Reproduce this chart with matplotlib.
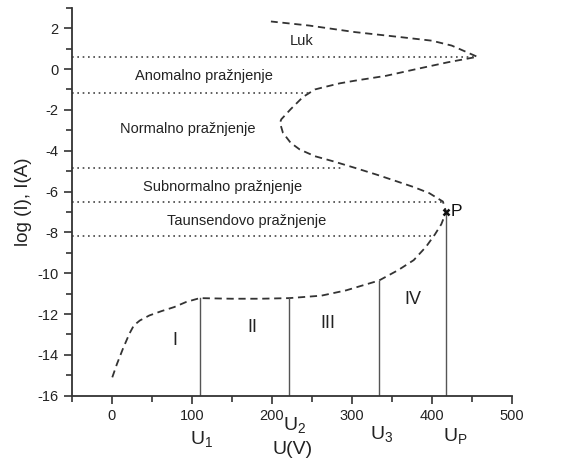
import matplotlib
matplotlib.use('Agg')
import matplotlib.pyplot as plt
from matplotlib.ticker import MultipleLocator
import matplotlib.transforms as mtransforms

plt.rcParams['font.family'] = ['Liberation Sans', 'DejaVu Sans']
plt.rcParams['mathtext.fontset'] = 'custom'
plt.rcParams['mathtext.rm'] = 'Liberation Sans'
plt.rcParams['mathtext.it'] = 'Liberation Sans'
plt.rcParams['axes.unicode_minus'] = False

# dashed characteristic curve (U in V, log I)
lower_u = [0.7, 6.5, 14, 22, 27.6, 35, 47, 62, 78, 93, 110, 150, 186, 222,
           262, 293, 334, 358, 377.5, 393, 404, 412, 418]
lower_logi = [-15.1, -14.45, -13.7, -12.97, -12.56, -12.32, -12.07, -11.86,
              -11.66, -11.41, -11.22, -11.25, -11.25, -11.22, -11.1, -10.84,
              -10.36, -9.85, -9.36, -8.7, -8.1, -7.6, -7.0]
upper_u = [414, 397, 377.5, 354, 331, 304, 277, 254, 235, 223.6, 214, 210.3,
           212, 223.6, 239, 254, 266, 285, 304, 343, 381, 420, 457,
           425, 400, 362, 304, 247, 199]
upper_logi = [-6.49, -6.08, -5.78, -5.47, -5.17, -4.84, -4.52, -4.27, -3.94,
              -3.61, -3.12, -2.63, -2.46, -1.97, -1.37, -1.0, -0.88, -0.7,
              -0.57, -0.33, 0.0, 0.33, 0.6, 1.15, 1.39, 1.56, 1.81, 2.13, 2.33]

# region boundaries (dotted): level and where they stop
bound_levels = [0.57, -1.18, -4.84, -6.5, -8.2]
bound_ends = [457, 250, 289, 414, 400]

# vertical lines at U1, U2, U3, Up
vline_u = [110, 221, 334, 418]
vline_top = [-11.22, -11.2, -10.36, -7.0]
vline_names = ['U$_1$', 'U$_2$', 'U$_3$', 'U$_\\mathregular{P}$']
vname_x = [112, 228, 338, 430]
vname_y = [-0.112, -0.076, -0.099, -0.104]

regions = ['Luk', 'Anomalno pražnjenje', 'Normalno pražnjenje',
           'Subnormalno pražnjenje', 'Taunsendovo pražnjenje']
region_x = [237, 115, 95, 138, 169]
region_y = [1.39, -0.33, -2.93, -5.8, -7.45]

roman = ['I', 'II', 'III', 'IV']
roman_x = [79.5, 176, 270, 376]
roman_y = [-13.3, -12.68, -12.44, -11.3]

p_u, p_logi = 418, -6.98

fig = plt.figure(figsize=(5.63, 4.59), dpi=100)
ax = fig.add_axes([0.1274, 0.1379, 0.7815, 0.8451])

line_col = '#333333'
ax.plot(lower_u + upper_u, lower_logi + upper_logi, color=line_col, lw=1.3,
        linestyle=(0, (4, 2.6)))

for lev, end in zip(bound_levels, bound_ends):
    ax.plot([-50, end], [lev, lev], color='#444444', lw=1.2,
            linestyle=(0, (1, 2.2)))

for u, top in zip(vline_u, vline_top):
    ax.plot([u, u], [-16, top], color='#555555', lw=1.0)

ax.plot([p_u], [p_logi], marker='x', color='#111111', ms=5, mew=1.8)
ax.text(424, p_logi, 'P', fontsize=12.5, ha='left', va='center', color='#111111')

for name, x, y in zip(regions, region_x, region_y):
    ax.text(x, y, name, fontsize=10.5, ha='center', va='center', color='#222222')

for name, x, y in zip(roman, roman_x, roman_y):
    ax.text(x, y, name, fontsize=13, ha='center', va='center', color='#222222')

trans = mtransforms.blended_transform_factory(ax.transData, ax.transAxes)
for name, x, y in zip(vline_names, vname_x, vname_y):
    ax.text(x, y, name, fontsize=14, ha='center', va='center',
            transform=trans, color='#222222')
ax.text(226, -0.138, 'U(V)', fontsize=14, ha='center', va='center',
        transform=trans, color='#222222')

ax.set_xlim(-50, 500)
ax.set_ylim(-16, 3)
ax.xaxis.set_major_locator(MultipleLocator(100))
ax.xaxis.set_minor_locator(MultipleLocator(50))
ax.yaxis.set_major_locator(MultipleLocator(2))
ax.yaxis.set_minor_locator(MultipleLocator(1))
ax.set_xticks(range(0, 501, 100))

ax.set_ylabel('log (I), I(A)', fontsize=13.5, color='#222222', labelpad=4)

for side in ['top', 'right']:
    ax.spines[side].set_visible(False)
for side in ['left', 'bottom']:
    ax.spines[side].set_linewidth(1.3)
    ax.spines[side].set_color('#333333')

ax.tick_params(which='major', direction='out', length=6, width=1.2,
               colors='#333333', labelsize=10.5, labelcolor='#222222')
ax.tick_params(which='minor', direction='out', length=4, width=1.2,
               colors='#333333')

fig.savefig('out.png', dpi=100)
